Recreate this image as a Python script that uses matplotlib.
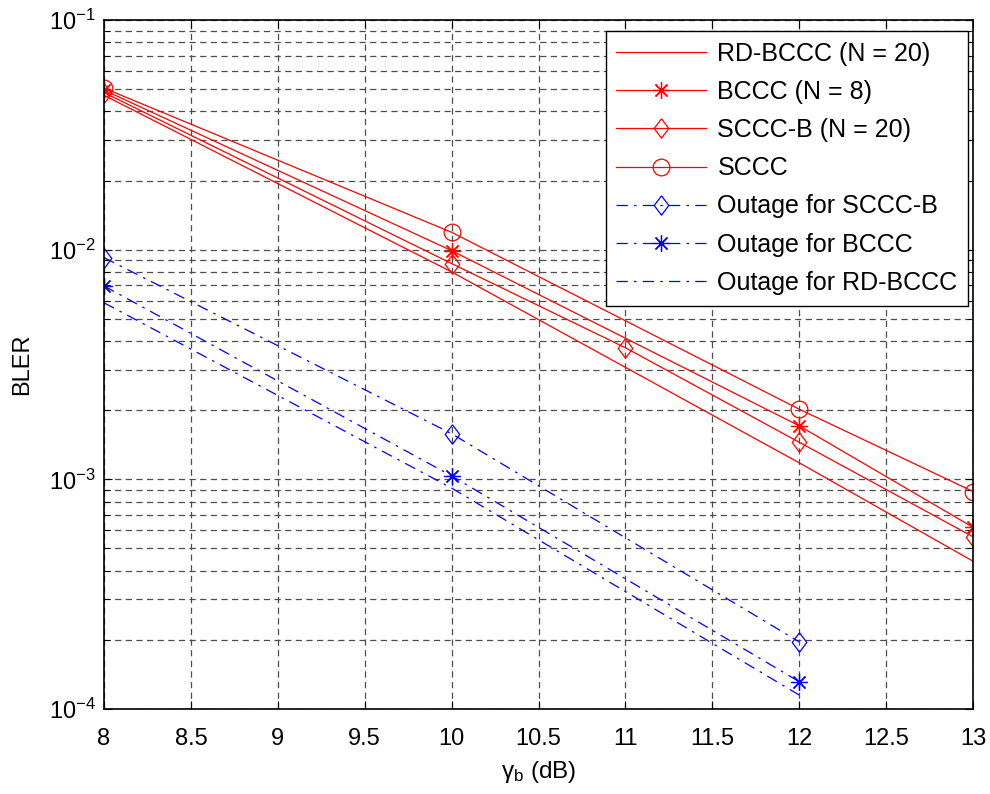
import matplotlib
matplotlib.use("Agg")
import matplotlib.pyplot as plt
from matplotlib.ticker import MultipleLocator, LogLocator, NullFormatter

plt.rcParams["font.family"] = ["Liberation Sans", "DejaVu Sans"]
plt.rcParams["mathtext.fontset"] = "custom"
plt.rcParams["mathtext.rm"] = "Liberation Sans"
plt.rcParams["mathtext.it"] = "Liberation Sans:italic"

# ---- data ----
x_full = [8, 10, 12, 13]
x_sccc_b = [8, 10, 11, 12, 13]
x_out = [8, 10, 12]

rd_bccc = [0.047, 0.0080, 0.00118, 0.00044]
bccc = [0.0495, 0.0099, 0.00171, 0.000618]
sccc_b = [0.0483, 0.0087, 0.00374, 0.00145, 0.000562]
sccc = [0.0505, 0.0119, 0.00202, 0.000885]

out_sccc_b = [0.00923, 0.00158, 0.000196]
out_bccc = [0.00695, 0.001035, 0.0001315]
out_rd_bccc = [0.00587, 0.000916, 0.000115]

labels = ["RD-BCCC (N = 20)", "BCCC (N = 8)", "SCCC-B (N = 20)", "SCCC",
          "Outage for SCCC-B", "Outage for BCCC", "Outage for RD-BCCC"]

# ---- markers in MATLAB style ----
diamond = [(0, 1), (0.75, 0), (0, -1), (-0.75, 0), (0, 1)]
star = (8, 2, 0)

fig = plt.figure(figsize=(9.9, 7.94), dpi=100)
ax = fig.add_axes([104 / 990, 1 - 709 / 794, 869 / 990, 689 / 794])

red, blue = "#ff0000", "#0000ff"
lw = 0.9
ax.plot(x_full, rd_bccc, "-", color=red, lw=lw, label=labels[0])
ax.plot(x_full, bccc, "-", color=red, lw=lw, marker=star, ms=12, mew=0.9, label=labels[1])
ax.plot(x_sccc_b, sccc_b, "-", color=red, lw=lw, marker=diamond, ms=14, mfc="none",
        mew=0.9, label=labels[2])
ax.plot(x_full, sccc, "-", color=red, lw=lw, marker="o", ms=12, mfc="none", mew=0.9,
        label=labels[3])

dashdot = (0, (9, 5, 2, 5))
ax.plot(x_out, out_sccc_b, color=blue, lw=lw, ls=dashdot, marker=diamond, ms=14,
        mfc="none", mew=0.9, label=labels[4])
ax.plot(x_out, out_bccc, color=blue, lw=lw, ls=dashdot, marker=star, ms=12, mew=0.9,
        label=labels[5])
ax.plot(x_out, out_rd_bccc, color=blue, lw=lw, ls=dashdot, label=labels[6])

ax.set_yscale("log")
ax.set_xlim(8, 13)
ax.set_ylim(1e-4, 1e-1)
ax.xaxis.set_major_locator(MultipleLocator(0.5))
ax.xaxis.set_major_formatter(plt.FuncFormatter(lambda v, p: f"{v:g}"))
ax.yaxis.set_major_locator(LogLocator(base=10, numticks=10))
ax.yaxis.set_minor_locator(LogLocator(base=10, subs=range(2, 10), numticks=20))
ax.yaxis.set_minor_formatter(NullFormatter())

ax.grid(True, which="major", ls=(0, (5, 3.5)), color="#4d4d4d", lw=0.9)
ax.grid(True, which="minor", axis="y", ls=(0, (5, 3.5)), color="#4d4d4d", lw=0.9)
ax.tick_params(which="both", direction="in", top=True, right=True, labelsize=17)
ax.tick_params(which="major", length=6)
ax.tick_params(which="minor", length=4)
ax.tick_params(axis="x", pad=14)
ax.tick_params(axis="y", pad=6)
for s in ax.spines.values():
    s.set_linewidth(1.2)

ax.set_xlabel("γ$_{\\rm b}$ (dB)", fontsize=17.5, labelpad=6)
ax.set_ylabel("BLER", fontsize=17, labelpad=11)

leg = ax.legend(loc="upper right", bbox_to_anchor=(864 / 869, 1 - 11 / 689),
                borderaxespad=0, fontsize=18, handlelength=3.6, handletextpad=0.45,
                labelspacing=0.57, borderpad=0.42, fancybox=False, framealpha=1,
                edgecolor="black")
leg.get_frame().set_linewidth(1.0)

fig.savefig("out.png", dpi=100)
